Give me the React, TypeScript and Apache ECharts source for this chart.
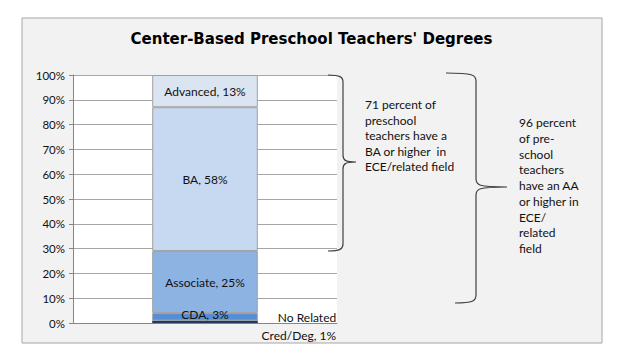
import React, { useEffect, useRef } from "react";
import * as echarts from "echarts";

const categories = [""];
const seriesNames = ["No Related Cred/Deg", "CDA", "Associate", "BA", "Advanced"];
const seriesValues = [1, 3, 25, 58, 13];
const seriesColors = ["#1f3864", "#558ed5", "#8db3e2", "#c6d9f1", "#dbe5f1"];
const yTicks = [0, 10, 20, 30, 40, 50, 60, 70, 80, 90, 100];
const note1 = ["71 percent of", "preschool", "teachers have a", "BA or higher  in", "ECE/related field"];
const note2 = ["96 percent", "of pre-", "school", "teachers", "have an AA", "or higher in", "ECE/", "related", "field"];

function braceD(x0t: number, top: number, x0b: number, bot: number, xm: number, xt: number, mid: number, r: number) {
  return `M ${x0t} ${top} C ${xm - 3} ${top} ${xm} ${top + 2} ${xm} ${top + r} L ${xm} ${mid - r} C ${xm} ${mid - 2} ${xm + 2} ${mid} ${xt} ${mid} C ${xm + 2} ${mid} ${xm} ${mid + 2} ${xm} ${mid + r} L ${xm} ${bot - r} C ${xm} ${bot - 2} ${xm - 3} ${bot} ${x0b} ${bot}`;
}

export default function App() {
  const ref = useRef<HTMLDivElement>(null);
  useEffect(() => {
    if (!ref.current) return;
    echarts.graphic.registerShape("brace1", echarts.graphic.extendPath(braceD(328, 75, 328, 251, 343, 356, 162, 7), {}));
    echarts.graphic.registerShape("brace2", echarts.graphic.extendPath(braceD(446, 73, 455, 303, 476, 507, 187, 8), {}));
    const chart = echarts.init(ref.current, null, { renderer: "svg" });
    const font = "Lato, 'Open Sans', sans-serif";
    const series: any[] = seriesNames.map((name, i) => {
      const base: any = {
        name,
        type: "bar",
        stack: "total",
        barWidth: "40%",
        data: [seriesValues[i]],
        itemStyle: { color: seriesColors[i], borderColor: "#a0a0a0", borderWidth: 1 },
        label: {
          show: true,
          position: "inside",
          formatter: `${name}, {c}%`,
          color: "#111",
          fontFamily: font,
          fontSize: 12,
        },
      };
      if (i === 0) {
        base.itemStyle.borderWidth = 0;
        base.label = {
          show: true,
          position: [184, 6],
          align: "right",
          verticalAlign: "middle",
          formatter: "No Related\nCred/Deg, {c}%",
          color: "#111",
          fontFamily: font,
          fontSize: 12,
          lineHeight: 18,
        };
      }
      if (i === 1) {
        base.label.offset = [0, -2];
      }
      return base;
    });
    chart.setOption({
      animation: false,
      title: {
        text: "Center-Based Preschool Teachers' Degrees",
        left: "center",
        top: 26,
        textStyle: { fontFamily: "'DejaVu Sans', Verdana, sans-serif", fontWeight: "bold", fontSize: 15, color: "#000" },
      },
      grid: { left: 73, right: 286, top: 75, bottom: 39, show: true, backgroundColor: "#ffffff", borderWidth: 0 },
      xAxis: {
        type: "category",
        data: categories,
        axisLine: { show: true, lineStyle: { color: "#868686" } },
        axisTick: { show: false },
        axisLabel: { show: false },
      },
      yAxis: {
        type: "value",
        min: yTicks[0],
        max: yTicks[yTicks.length - 1],
        interval: 10,
        axisLine: { show: true, lineStyle: { color: "#868686" } },
        axisTick: { show: true, length: 4, lineStyle: { color: "#868686" } },
        splitLine: { show: true, lineStyle: { color: "#a6a6a6" } },
        axisLabel: { formatter: "{value}%", color: "#111", fontFamily: font, fontSize: 11.5, margin: 8 },
      },
      graphic: [
        { type: "rect", z: -10, shape: { x: 22, y: 18, width: 580, height: 325 }, style: { fill: "#f2f2f2", stroke: "#a6a6a6", lineWidth: 1 } },
        { type: "brace1", x: 0, y: 0, z: 10, style: { fill: "none", stroke: "#404040", lineWidth: 1.2 } },
        { type: "brace2", x: 0, y: 0, z: 10, style: { fill: "none", stroke: "#404040", lineWidth: 1.2 } },
        { type: "text", x: 365, y: 97, z: 10, style: { text: note1.join("\n"), fill: "#111", font: `12px ${font}`, lineHeight: 15.5 } },
        { type: "text", x: 519, y: 115, z: 10, style: { text: note2.join("\n"), fill: "#111", font: `12px ${font}`, lineHeight: 15.7 } },
      ],
      series,
    });
    return () => chart.dispose();
  }, []);
  return <div ref={ref} style={{ position: "fixed", left: 0, top: 0, width: 623, height: 362, background: "#fff" }} />;
}
